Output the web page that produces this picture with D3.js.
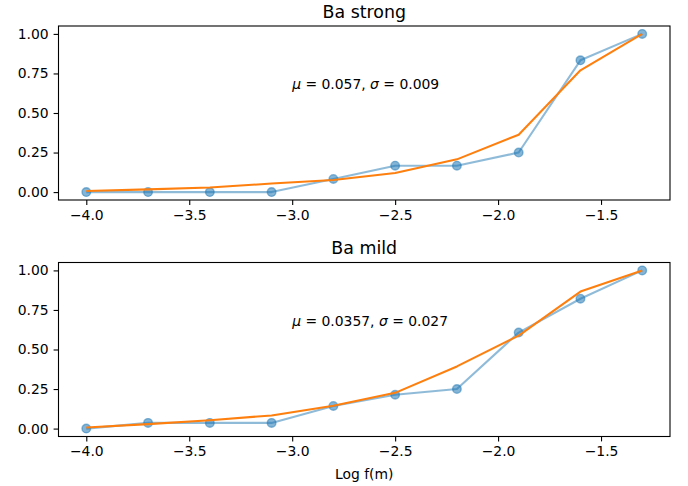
<!DOCTYPE html>
<html>
<head>
<meta charset="utf-8">
<script src="https://cdn.jsdelivr.net/npm/d3@7"></script>
<style>
  body { margin: 0; background: #fff; }
  svg { display: block; }
  svg text { font-family: "DejaVu Sans", sans-serif; }
  .tick text { font-size: 13.9px; fill: #000; font-family: "DejaVu Sans", sans-serif; }
  .tick line { stroke: #000; stroke-width: 1.1px; }
  .domain { display: none; }
</style>
</head>
<body>
<div id="chart"></div>
<script>
// log frequency on x, cumulative fraction on y
const logF = [-4.0, -3.7, -3.4, -3.1, -2.8, -2.5, -2.2, -1.9, -1.6, -1.3];

const strongObserved = [0, 0, 0, 0, 0.083, 0.167, 0.167, 0.25, 0.833, 1.0];
const strongFitted   = [0.007, 0.017, 0.029, 0.054, 0.076, 0.121, 0.207, 0.363, 0.77, 1.0];

const mildObserved = [0, 0.036, 0.036, 0.036, 0.143, 0.214, 0.25, 0.607, 0.821, 1.0];
const mildFitted   = [0.007, 0.028, 0.053, 0.083, 0.145, 0.226, 0.393, 0.588, 0.866, 1.0];

const xTicks = [-4.0, -3.5, -3.0, -2.5, -2.0, -1.5];
const yTicks = [0, 0.25, 0.5, 0.75, 1.0];

const panelTitles = ["Ba strong", "Ba mild"];
const panelNotes = [
  { mu: "0.057", sigma: "0.009" },
  { mu: "0.0357", sigma: "0.027" }
];
const xLabel = "Log f(m)";

const W = 688, H = 486;
const left = 58.5, right = 670;

const svg = d3.select("#chart").append("svg")
  .attr("width", W)
  .attr("height", H);

// matplotlib-like 5% margins
const x = d3.scaleLinear()
  .domain([-4.135, -1.165])
  .range([left, right]);

function drawPanel(top, bottom, title, observed, fitted, note, withXLabel) {
  const y = d3.scaleLinear().domain([-0.05, 1.05]).range([bottom, top]);
  const g = svg.append("g");

  const obs = logF.map((v, i) => ({ x: v, y: observed[i] }));
  const fit = logF.map((v, i) => ({ x: v, y: fitted[i] }));
  const line = d3.line().x(d => x(d.x)).y(d => y(d.y));

  // observed: translucent blue line + markers
  g.append("path")
    .datum(obs)
    .attr("d", line)
    .attr("fill", "none")
    .attr("stroke", "#1f77b4")
    .attr("stroke-opacity", 0.5)
    .attr("stroke-width", 2.08)
    .attr("stroke-linejoin", "round");

  g.selectAll(".pt")
    .data(obs)
    .enter().append("circle")
    .attr("class", "pt")
    .attr("cx", d => x(d.x))
    .attr("cy", d => y(d.y))
    .attr("r", 4.3)
    .attr("fill", "#1f77b4")
    .attr("fill-opacity", 0.55)
    .attr("stroke", "#1f77b4")
    .attr("stroke-opacity", 0.5)
    .attr("stroke-width", 1.39);

  // fitted curve
  g.append("path")
    .datum(fit)
    .attr("d", line)
    .attr("fill", "none")
    .attr("stroke", "#ff7f0e")
    .attr("stroke-width", 2.08)
    .attr("stroke-linejoin", "round");

  // annotation (mathtext style)
  const t = g.append("text")
    .attr("x", x(-3.0))
    .attr("y", y(0.65))
    .attr("xml:space", "preserve")
    .style("font-size", "13.9px")
    .style("fill", "#000");
  t.append("tspan").style("font-style", "italic").text("μ");
  t.append("tspan").text(" = " + note.mu + ", ");
  t.append("tspan").style("font-style", "italic").text("σ");
  t.append("tspan").text(" = " + note.sigma);

  // axes
  g.append("g")
    .attr("transform", `translate(0,${bottom})`)
    .call(d3.axisBottom(x).tickValues(xTicks).tickFormat(d3.format(".1f"))
      .tickSizeInner(4.9).tickSizeOuter(0).tickPadding(4.9));

  g.append("g")
    .attr("transform", `translate(${left},0)`)
    .call(d3.axisLeft(y).tickValues(yTicks).tickFormat(d3.format(".2f"))
      .tickSizeInner(4.9).tickSizeOuter(0).tickPadding(4.9));

  // frame
  g.append("rect")
    .attr("x", left)
    .attr("y", top)
    .attr("width", right - left)
    .attr("height", bottom - top)
    .attr("fill", "none")
    .attr("stroke", "#000")
    .attr("stroke-width", 1.1);

  g.append("text")
    .attr("x", (left + right) / 2)
    .attr("y", top - 8.3)
    .attr("text-anchor", "middle")
    .style("font-size", "17.4px")
    .style("fill", "#000")
    .text(title);

  if (withXLabel) {
    g.append("text")
      .attr("x", (left + right) / 2)
      .attr("y", bottom + 42.5)
      .attr("text-anchor", "middle")
      .style("font-size", "13.9px")
      .style("fill", "#000")
      .text(xLabel);
  }
}

drawPanel(26, 200, panelTitles[0], strongObserved, strongFitted, panelNotes[0], false);
drawPanel(262.5, 436.5, panelTitles[1], mildObserved, mildFitted, panelNotes[1], true);
</script>
</body>
</html>
